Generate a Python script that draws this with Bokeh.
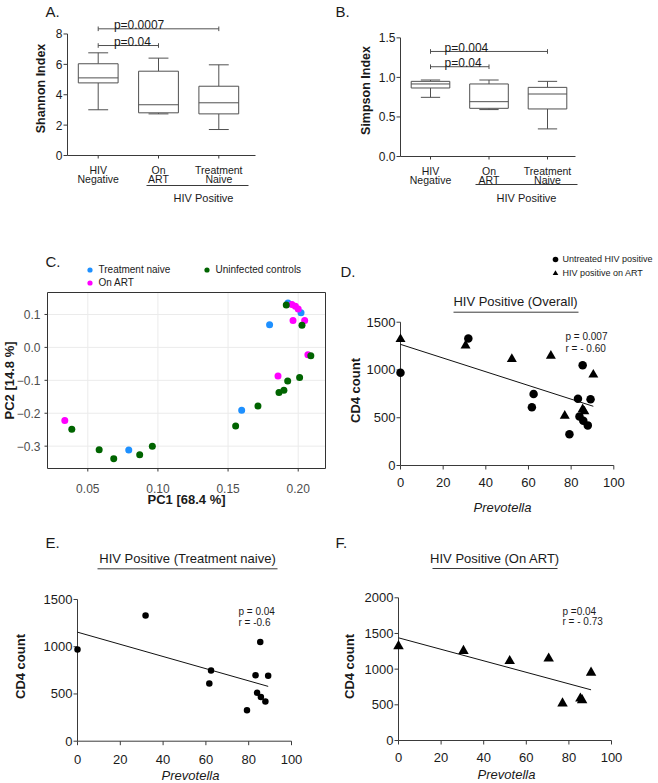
import numpy as np
from math import pi
from bokeh.plotting import figure
from bokeh.layouts import column, row
from bokeh.models import Label, Legend, LegendItem
from bokeh.embed import file_html
from bokeh.resources import INLINE

FONT = "Liberation Sans"
INK = "#1a1a1a"
AXC = "#3a3a3a"
BOXC = "#505050"

# ---------------- data ----------------
# Panel A: Shannon index box-plot summaries
groups = ["HIV\nNegative", "On\nART", "Treatment\nNaive"]
shannon_min = [3.01, 2.74, 1.71]
shannon_q1 = [4.78, 2.81, 2.74]
shannon_median = [5.11, 3.34, 3.47]
shannon_q3 = [6.04, 5.55, 4.56]
shannon_max = [6.76, 6.41, 5.97]
shannon_ticks = [0, 2, 4, 6, 8]
shannon_pvals = ["p=0.04", "p=0.0007"]
shannon_bracket_y = [7.24, 8.34]
bracket_to = [2, 3]

# Panel B: Simpson index box-plot summaries
simpson_min = [0.748, 0.593, 0.349]
simpson_q1 = [0.866, 0.609, 0.601]
simpson_median = [0.917, 0.693, 0.790]
simpson_q3 = [0.950, 0.917, 0.874]
simpson_max = [0.967, 0.967, 0.950]
simpson_ticks = [0.0, 0.5, 1.0, 1.5]
simpson_tick_labels = ["0.0", "0.5", "1.0", "1.5"]
simpson_pvals = ["p=0.04", "p=0.004"]
simpson_bracket_y = [1.135, 1.328]

# Panel C: PCoA
naive_pc1 = [0.1796, 0.1597, 0.0792, 0.1927, 0.2020]
naive_pc2 = [0.069, -0.191, -0.312, 0.135, 0.105]
art_pc1 = [0.0336, 0.1856, 0.2069, 0.1963, 0.2046, 0.1955, 0.1980, 0.2000]
art_pc2 = [-0.222, -0.0865, -0.022, 0.082, 0.082, 0.130, 0.125, 0.117]
ctrl_pc1 = [0.0386, 0.0581, 0.0685, 0.0870, 0.0960, 0.1554, 0.1713, 0.1863,
            0.1898, 0.1925, 0.2010, 0.2090, 0.2027, 0.1915]
ctrl_pc2 = [-0.249, -0.311, -0.338, -0.326, -0.300, -0.239, -0.178, -0.137,
            -0.130, -0.102, -0.0916, -0.025, 0.067, 0.129]
pc1_ticks = [0.05, 0.10, 0.15, 0.20]
pc1_labels = ["0.05", "0.10", "0.15", "0.20"]
pc2_ticks = [-0.3, -0.2, -0.1, 0.0, 0.1]
pc2_labels = ["\u22120.3", "\u22120.2", "\u22120.1", "0.0", "0.1"]

# Panels D-F: CD4 count vs Prevotella
untreated_prev = [0.0, 31.8, 62.4, 61.6, 79.2, 83.2, 83.9, 85.4, 85.7, 87.8, 89.1]
untreated_cd4 = [972, 1330, 748, 610, 328, 698, 512, 1050, 468, 420, 693]
art_prev = [0.0, 30.5, 52.2, 70.5, 77.0, 85.4, 86.2, 90.4]
art_cd4 = [1322, 1256, 1114, 1148, 520, 588, 566, 951]
prev_ticks = [0, 20, 40, 60, 80, 100]
cd4_ticks_1500 = [0, 500, 1000, 1500]
cd4_ticks_2000 = [0, 500, 1000, 1500, 2000]
fit_overall = [1268, -7.17]   # intercept, slope
fit_naive = [1154, -6.44]
fit_art = [1439, -8.06]
stats_overall = ["p = 0.007", "r = - 0.60"]
stats_naive = ["p = 0.04", "r = -0.6"]
stats_art = ["p =0.04", "r = - 0.73"]


# ---------------- helpers ----------------
class Panel:
    """A figure whose frame covers its whole canvas; ox, oy = page position."""

    def __init__(self, ox, oy, w, h, xref_px, xref_val, xs, yref_px, yref_val, ys):
        self.xref_px, self.xref_val, self.xs = xref_px, xref_val, xs
        self.yref_px, self.yref_val, self.ys = yref_px, yref_val, ys
        self.ox, self.oy, self.w, self.h = ox, oy, w, h
        xr = (self.X(ox), self.X(ox + w))
        yr = (self.Y(oy + h), self.Y(oy))
        self.p = figure(width=w, height=h, x_range=xr, y_range=yr, title=None,
                        x_axis_type=None, y_axis_type=None, output_backend="svg",
                        toolbar_location=None, min_border=0)
        self.p.outline_line_color = None

    def X(self, px):
        return self.xref_val + (px - self.xref_px) / self.xs

    def Y(self, py):
        return self.yref_val + (self.yref_px - py) / self.ys

    def PX(self, x):
        return self.xref_px + (x - self.xref_val) * self.xs

    def PY(self, y):
        return self.yref_px - (y - self.yref_val) * self.ys

    def seg(self, x0, y0, x1, y1, color=AXC, width=1):
        self.p.segment(x0=x0, y0=y0, x1=x1, y1=y1, line_color=color, line_width=width)

    def text(self, x, y, s, size, align="left", baseline="alphabetic", style="normal",
             color=INK, angle=0.0):
        self.p.add_layout(Label(x=x, y=y, text=s, text_font=FONT, text_font_size=size,
                                text_align=align, text_baseline=baseline,
                                text_font_style=style, text_color=color, angle=angle))

    def yaxis(self, xv, ticks, labels, size, lo, hi, tick=4, gap=1, line=True, color=INK):
        if line:
            self.seg([xv], [lo], [xv], [hi])
        ax = self.PX(xv)
        self.seg([self.X(ax - tick)] * len(ticks), ticks, [xv] * len(ticks), ticks)
        for t, s in zip(ticks, labels):
            self.text(self.X(ax - tick - gap), t, s, size, align="right", baseline="middle",
                      color=color)

    def xaxis(self, yv, ticks, labels, size, lo, hi, base_px, tick=4, line=True, color=INK):
        if line:
            self.seg([lo], [yv], [hi], [yv])
        ay = self.PY(yv)
        self.seg(ticks, [self.Y(ay + tick)] * len(ticks), ticks, [yv] * len(ticks))
        for t, s in zip(ticks, labels):
            self.text(t, self.Y(base_px), s, size, align="center", color=color)


def box_panel(pn, lo, q1, med, q3, hi, ticks, tick_labels, ytop, axis_x_px, axis_end_px,
              cat_base_px, ylabel, ylabel_xy, pvals, pys, tx, under, pos_text, letter):
    p = pn.p
    xs = np.arange(1, len(lo) + 1)
    bw, cw = 0.66, 0.33
    p.segment(xs, q3, xs, hi, line_color=BOXC)
    p.segment(xs, lo, xs, q1, line_color=BOXC)
    p.segment(xs - cw / 2, hi, xs + cw / 2, hi, line_color=BOXC)
    p.segment(xs - cw / 2, lo, xs + cw / 2, lo, line_color=BOXC)
    p.vbar(x=xs, width=bw, bottom=q1, top=q3, fill_color="white", line_color=BOXC)
    p.segment(xs - bw / 2, med, xs + bw / 2, med, line_color=BOXC)
    # significance brackets
    tick = 2.3 / pn.ys
    lift = 3.5 / pn.ys
    for t, yv, lab in zip(bracket_to, pys, pvals):
        p.segment([1, 1, t], [yv, yv - tick, yv - tick], [t, 1, t], [yv, yv + tick, yv + tick],
                  line_color=BOXC)
        pn.text(tx, yv + lift, lab, "12px")
    # axes
    x_axis = pn.X(axis_x_px)
    pn.yaxis(x_axis, ticks, tick_labels, "12px", 0, ytop, tick=4, gap=1)
    pn.xaxis(0, list(xs), [""] * len(xs), "10px", x_axis, pn.X(axis_end_px), 0, tick=3)
    for i, g in enumerate(groups):
        for j, part in enumerate(g.split("\n")):
            pn.text(i + 1, pn.Y(cat_base_px[j]), part, "10.5px", align="center")
    pn.text(pn.X(ylabel_xy[0]), pn.Y(ylabel_xy[1]), ylabel, "12.5px", align="center",
            baseline="middle", style="bold", angle=pi / 2)
    pn.seg([pn.X(under[0])], [pn.Y(under[2])], [pn.X(under[1])], [pn.Y(under[2])])
    pn.text(pn.X(pos_text[0]), pn.Y(pos_text[1]), "HIV Positive", "11px", align="center",
            baseline="middle")
    pn.text(pn.X(letter[0]), pn.Y(letter[1]), letter[2], "15px", baseline="top")


# ---------------- panel A ----------------
pa = Panel(0, 0, 329, 250, 97.7, 1, 60.3, 155, 0, 15.19)
box_panel(pa, shannon_min, shannon_q1, shannon_median, shannon_q3, shannon_max,
          shannon_ticks, [str(t) for t in shannon_ticks], 8, 67, 255, (169.3, 178.3),
          "Shannon Index", (40, 88), shannon_pvals, shannon_bracket_y, 1.26,
          (146, 248, 185), (203, 197), (45, 2, "A."))

# ---------------- panel B ----------------
pb = Panel(329, 0, 329, 250, 430, 1, 58.5, 156, 0, 79.1)
box_panel(pb, simpson_min, simpson_q1, simpson_median, simpson_q3, simpson_max,
          simpson_ticks, simpson_tick_labels, 1.5, 400, 575, (170.3, 179.3),
          "Simpson Index", (365, 90), simpson_pvals, simpson_bracket_y, 1.24,
          (475, 577, 184), (526, 197), (335, 2, "B."))

# ---------------- panel C ----------------
pc = Panel(0, 250, 329, 270, 87.3, 0.05, 1402.7, 346.9, 0.0, 329.2)
cl, cr, ct, cb = pc.X(47), pc.X(325), pc.Y(292), pc.Y(468)
GRID = "#EBEBEB"
pc.seg(pc1_ticks, [cb] * 4, pc1_ticks, [ct] * 4, color=GRID)
pc.seg([cl] * 5, pc2_ticks, [cr] * 5, pc2_ticks, color=GRID)
pc.p.quad(left=[cl], right=[cr], top=[ct], bottom=[cb], fill_color=None,
          line_color="#333333", line_width=1)
pc.xaxis(cb, pc1_ticks, pc1_labels, "12px", cl, cr, 488, tick=3, line=False, color="#4D4D4D")
pc.yaxis(cl, pc2_ticks, pc2_labels, "12px", cb, ct, tick=3, gap=4, line=False, color="#4D4D4D")
pc.text(pc.X(186), pc.Y(499), "PC1 [68.4 %]", "13px", align="center", baseline="middle",
        style="bold")
pc.text(pc.X(9), pc.Y(380), "PC2 [14.8 %]", "13px", align="center", baseline="middle",
        style="bold", angle=pi / 2)
r_naive = pc.p.scatter(naive_pc1, naive_pc2, size=7, fill_color="#1E90FF", line_color=None)
r_art = pc.p.scatter(art_pc1, art_pc2, size=7, fill_color="#FF00FF", line_color=None)
r_ctrl = pc.p.scatter(ctrl_pc1, ctrl_pc2, size=7, fill_color="#006400", line_color=None)
leg_kw = dict(orientation="vertical", padding=0, margin=0, spacing=0, glyph_height=13,
              glyph_width=13, label_height=13, label_standoff=3, label_text_font=FONT,
              label_text_font_size="10px", label_text_color=INK, border_line_color=None,
              background_fill_alpha=0)
pc.p.add_layout(Legend(items=[LegendItem(label="Treatment naive", renderers=[r_naive]),
                              LegendItem(label="On ART", renderers=[r_art])],
                       location=(82.5, 520 - 288.5), **leg_kw))
pc.p.add_layout(Legend(items=[LegendItem(label="Uninfected controls", renderers=[r_ctrl])],
                       location=(199.5, 520 - 275.5), **leg_kw))
pc.text(pc.X(45), pc.Y(252), "C.", "15px", baseline="top")


# ---------------- panels D-F ----------------
def cd4_panel(pn, yticks, ylab_xy, xlab_xy, xbase, title, tcenter, tline, stats, sxy, letter):
    pn.yaxis(0, yticks, [str(t) for t in yticks], "13px", 0, yticks[-1], tick=4, gap=1)
    pn.xaxis(0, prev_ticks, [str(t) for t in prev_ticks], "13px", 0, 100, xbase, tick=4)
    pn.text(pn.X(ylab_xy[0]), pn.Y(ylab_xy[1]), "CD4 count", "13px", align="center",
            baseline="middle", style="bold", angle=pi / 2)
    pn.text(pn.X(xlab_xy[0]), pn.Y(xlab_xy[1]), "Prevotella", "13px", align="center",
            style="italic")
    pn.text(pn.X(tcenter[0]), pn.Y(tcenter[1]), title, "13px", align="center",
            baseline="middle")
    pn.seg([pn.X(tline[0])], [pn.Y(tline[2])], [pn.X(tline[1])], [pn.Y(tline[2])])
    pn.text(pn.X(sxy[0]), pn.Y(sxy[1]), stats[0], "10px")
    pn.text(pn.X(sxy[0]), pn.Y(sxy[2]), stats[1], "10px")
    pn.text(pn.X(letter[0]), pn.Y(letter[1]), letter[2], "15px", baseline="top")


def fit_line(p, fit, xs):
    xx = np.array([0.0, max(xs)])
    p.line(xx, fit[0] + fit[1] * xx, line_color="#111111", line_width=1)


# D
pd_ = Panel(329, 250, 329, 270, 400, 0, 2.133, 465, 0, 0.09553)
cd4_panel(pd_, cd4_ticks_1500, (355, 390), (502, 507), 482, "HIV Positive (Overall)",
          (515, 301), (453, 578, 311.7), stats_overall, (565, 336, 348), (340, 262, "D."))
fit_line(pd_.p, fit_overall, untreated_prev + art_prev)
r_c = pd_.p.scatter(untreated_prev, untreated_cd4, marker="circle", size=8.5,
                    fill_color="black", line_color=None)
r_t = pd_.p.scatter(art_prev, art_cd4, marker="triangle", size=10, fill_color="black",
                    line_color=None)
pd_.p.add_layout(Legend(items=[LegendItem(label="Untreated HIV positive", renderers=[r_c]),
                               LegendItem(label="HIV positive on ART", renderers=[r_t])],
                        location=(547.5 - 329, 520 - 280), orientation="vertical", padding=0,
                        margin=0, spacing=0, glyph_height=14, glyph_width=14, label_height=14,
                        label_standoff=1, label_text_font=FONT, label_text_font_size="9px",
                        label_text_color=INK, border_line_color=None,
                        background_fill_alpha=0))

# E
pe = Panel(0, 520, 329, 263, 77, 0, 2.14, 740.7, 0, 0.09447)
cd4_panel(pe, cd4_ticks_1500, (20, 666), (190, 775), 759, "HIV Positive (Treatment naive)",
          (187, 557.5), (97, 277, 568.3), stats_naive, (238, 611, 622), (45, 533, "E."))
fit_line(pe.p, fit_naive, untreated_prev)
pe.p.scatter(untreated_prev, untreated_cd4, marker="circle", size=6.5, fill_color="black",
             line_color=None)

# F
pf = Panel(329, 520, 329, 263, 398, 0, 2.13, 740, 0, 0.07135)
cd4_panel(pf, cd4_ticks_2000, (349, 666), (506, 774), 757, "HIV Positive (On ART)",
          (494.5, 557.5), (432, 557, 568), stats_art, (562, 611, 621), (335, 533, "F."))
fit_line(pf.p, fit_art, art_prev)
pf.p.scatter(art_prev, art_cd4, marker="triangle", size=10.5, fill_color="black",
             line_color=None)

layout = column(row(pa.p, pb.p), row(pc.p, pd_.p), row(pe.p, pf.p))
open("out.html", "w").write(file_html(layout, INLINE))
